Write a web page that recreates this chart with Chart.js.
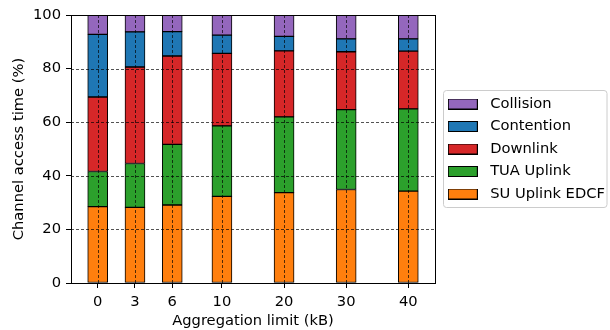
<!DOCTYPE html>
<html>
<head>
<meta charset="utf-8">
<script src="https://cdn.jsdelivr.net/npm/chart.js@4/dist/chart.umd.min.js"></script>
<style>
  html, body { margin: 0; padding: 0; background: #fff; }
  #wrap { width: 610px; height: 330px; }
</style>
</head>
<body>
<div id="wrap"><canvas id="c" width="610" height="330"></canvas></div>
<script>
// Category labels (aggregation limit, kB) and their positions on the x axis
const tickLabels = ['0', '3', '6', '10', '20', '30', '40'];
const xPositions = [0, 0.6, 1.2, 2, 3, 4, 5];

// Stacked segment values (% of channel access time)
const suUplinkEDCF = [28.5, 28.2, 29.1, 32.3, 33.7, 34.9, 34.3];
const tuaUplink    = [13.1, 16.4, 22.6, 26.3, 28.3, 29.8, 30.7];
const downlink     = [27.8, 36.0, 33.0, 27.1, 24.6, 21.6, 21.5];
const contention   = [23.4, 13.1,  9.1,  6.8,  5.4,  4.8,  4.6];
const collision    = [ 7.2,  6.3,  6.2,  7.5,  8.0,  8.9,  8.9];

const seriesNames  = ['SU Uplink EDCF', 'TUA Uplink', 'Downlink', 'Contention', 'Collision'];
const seriesColors = ['#ff7f0e', '#2ca02c', '#d62728', '#1f77b4', '#9467bd'];
const seriesData   = [suUplinkEDCF, tuaUplink, downlink, contention, collision];

const yTicks = [0, 20, 40, 60, 80, 100];

const toPts = arr => arr.map((v, i) => ({ x: xPositions[i], y: v }));

const FONT = 'DejaVu Sans';
const FS = 14.7;

// legend swatches (filled rectangle with black edge)
function swatch(color) {
  const c = document.createElement('canvas');
  c.width = 30; c.height = 11;
  const g = c.getContext('2d');
  g.fillStyle = color;
  g.fillRect(0.5, 0.5, 29, 10);
  g.strokeStyle = '#000';
  g.lineWidth = 1;
  g.strokeRect(0.5, 0.5, 29, 10);
  return c;
}
const swatches = seriesColors.map(swatch);

const datasets = seriesNames.map((name, k) => ({
  label: name, data: toPts(seriesData[k]), backgroundColor: seriesColors[k],
  borderColor: '#000', borderWidth: 1, borderSkipped: false,
  barThickness: 20
}));

const overlay = {
  id: 'overlay',
  afterInit(chart) {
    const lg = chart.legend;
    if (lg && !lg._wrapped) {
      const origFit = lg.fit.bind(lg);
      lg.fit = function () { origFit(); this.width = 175; };
      lg._wrapped = true;
    }
  },
  afterLayout(chart) {
    const lg = chart.legend;
    if (!lg) return;
    lg.top = chart.chartArea.top;
    lg.bottom = chart.chartArea.bottom;
    lg.height = lg.bottom - lg.top;
  },
  afterDatasetsDraw(chart) {
    const { ctx, chartArea: a, scales: { x, y } } = chart;
    ctx.save();
    ctx.strokeStyle = 'rgba(0,0,0,0.85)';
    ctx.lineWidth = 0.8;
    ctx.setLineDash([3, 2]);
    yTicks.forEach(v => {
      if (v <= 0 || v >= 100) return;
      const py = Math.round(y.getPixelForValue(v)) + 0.5;
      ctx.beginPath(); ctx.moveTo(a.left, py); ctx.lineTo(a.right, py); ctx.stroke();
    });
    xPositions.forEach(v => {
      const px = Math.round(x.getPixelForValue(v)) + 0.5;
      ctx.beginPath(); ctx.moveTo(px, a.top); ctx.lineTo(px, a.bottom); ctx.stroke();
    });
    ctx.setLineDash([]);
    ctx.strokeStyle = '#000';
    ctx.lineWidth = 1;
    ctx.strokeRect(Math.round(a.left) + 0.5, Math.round(a.top) + 0.5,
                   Math.round(a.right - a.left), Math.round(a.bottom - a.top));
    ctx.restore();
  },
  afterDraw(chart) {
    const lg = chart.legend;
    if (!lg || !lg.columnSizes || !lg.columnSizes.length) return;
    const pad = lg.options.labels.padding;
    const colH = lg.columnSizes[0].height;
    const y0 = (lg.top + pad + lg.bottom - colH) / 2;
    const yEnd = y0 + colH - pad;
    const ctx = chart.ctx;
    ctx.save();
    ctx.strokeStyle = '#cccccc';
    ctx.lineWidth = 1;
    const l = Math.round(lg.left + 8) + 0.5, t = Math.round(y0 - 7) + 0.5;
    const w = 607 - l, h = Math.round(yEnd + 6) + 0.5 - t;
    const r = 3;
    ctx.beginPath();
    ctx.moveTo(l + r, t);
    ctx.arcTo(l + w, t, l + w, t + h, r);
    ctx.arcTo(l + w, t + h, l, t + h, r);
    ctx.arcTo(l, t + h, l, t, r);
    ctx.arcTo(l, t, l + w, t, r);
    ctx.closePath();
    ctx.stroke();
    ctx.restore();
  }
};

new Chart(document.getElementById('c'), {
  type: 'bar',
  data: { datasets },
  options: {
    responsive: false,
    animation: false,
    layout: { padding: { top: 15, left: 0, right: 0, bottom: 0 } },
    plugins: {
      tooltip: { enabled: false },
      legend: {
        position: 'right',
        reverse: true,
        labels: {
          font: { family: FONT, size: FS },
          color: '#000',
          usePointStyle: true,
          pointStyleWidth: 40,
          boxHeight: 10,
          padding: 7.8,
          generateLabels: chart =>
            Chart.defaults.plugins.legend.labels.generateLabels(chart)
              .map(l => Object.assign(l, { pointStyle: swatches[l.datasetIndex] }))
        }
      }
    },
    scales: {
      x: {
        type: 'linear',
        stacked: true,
        offset: false,
        min: -0.43, max: 5.43,
        afterBuildTicks: s => { s.ticks = xPositions.map(v => ({ value: v })); },
        afterFit: s => { s.height = 47; },
        ticks: {
          autoSkip: false, maxRotation: 0,
          color: '#000', font: { family: FONT, size: FS }, padding: 5,
          callback: (v, i) => tickLabels[i]
        },
        grid: { offset: false, color: 'transparent', tickColor: '#000', tickLength: 5, drawTicks: true },
        border: { display: false },
        title: { display: true, text: 'Aggregation limit (kB)', color: '#000',
                 font: { family: FONT, size: FS }, padding: { top: 1, bottom: 0 } }
      },
      y: {
        stacked: true,
        min: 0, max: 100,
        afterBuildTicks: s => { s.ticks = yTicks.map(v => ({ value: v })); },
        afterFit: s => { s.width = 71; },
        ticks: { color: '#000', font: { family: FONT, size: FS }, padding: 5 },
        grid: { color: 'transparent', tickColor: '#000', tickLength: 5, drawTicks: true },
        border: { display: false },
        title: { display: true, text: 'Channel access time (%)', color: '#000',
                 font: { family: FONT, size: FS }, padding: { top: 10, bottom: 4 } }
      }
    }
  },
  plugins: [overlay]
});
</script>
</body>
</html>
